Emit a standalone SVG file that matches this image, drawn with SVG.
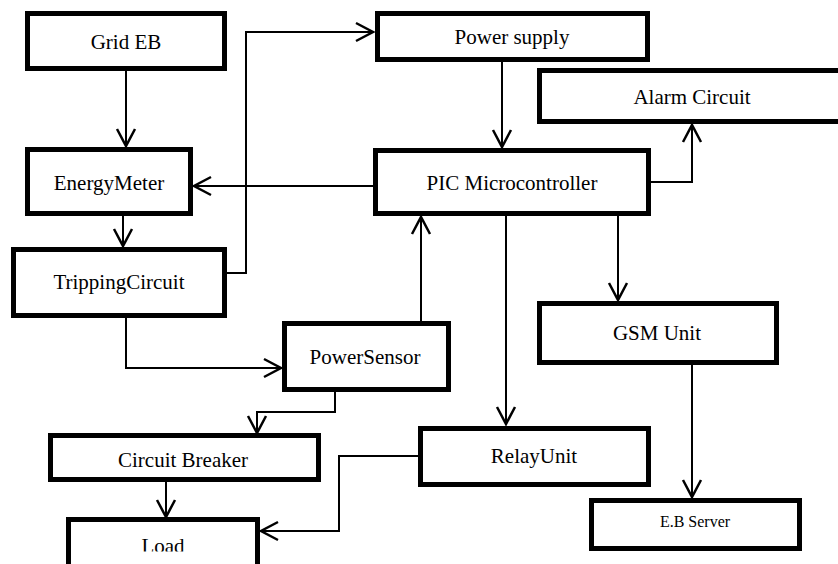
<svg xmlns="http://www.w3.org/2000/svg" width="838" height="564" viewBox="0 0 838 564">
<style>
.box{fill:#fff;stroke:#000;stroke-width:5}
.lbl{font-family:"Liberation Serif","Times New Roman",serif;font-size:21px;fill:#000;text-anchor:middle}
.sm{font-size:16px}
.con path{fill:none;stroke:#000;stroke-width:2}
</style>
<defs>
<marker id="arr" markerUnits="userSpaceOnUse" markerWidth="24" markerHeight="24" viewBox="-20 -12 24 24" refX="0" refY="0" orient="auto" overflow="visible">
<path d="M-17,-9 L0,0 L-17,9" fill="none" stroke="#000" stroke-width="2.5"/>
</marker>
<clipPath id="loadClip"><rect x="60" y="500" width="210" height="51.5"/></clipPath>
</defs>
<rect width="838" height="564" fill="#fff"/>
<g id="connectors" class="con">
<path d="M126,71 V146" marker-end="url(#arr)"/>
<path d="M123,212 V246" marker-end="url(#arr)"/>
<path d="M227,273 H246 V32 H373" marker-end="url(#arr)"/>
<path d="M502,62 V147" marker-end="url(#arr)"/>
<path d="M373,186 H194" marker-end="url(#arr)"/>
<path d="M651,182 H692 V125" marker-end="url(#arr)"/>
<path d="M421,323 V217" marker-end="url(#arr)"/>
<path d="M506,216 V424" marker-end="url(#arr)"/>
<path d="M618,216 V300" marker-end="url(#arr)"/>
<path d="M692,365 V497" marker-end="url(#arr)"/>
<path d="M126,318 V368 H281" marker-end="url(#arr)"/>
<path d="M335,387 V412 H257 V433" marker-end="url(#arr)"/>
<path d="M166,482 V517" marker-end="url(#arr)"/>
<path d="M418,456 H339 V531 H261" marker-end="url(#arr)"/>
</g>
<g id="grid-eb"><rect class="box" x="27.5" y="13.5" width="197" height="55"/><text class="lbl" x="126" y="49">Grid EB</text></g>
<g id="power-supply"><rect class="box" x="377.5" y="13.5" width="270" height="46"/><text class="lbl" x="512" y="44">Power supply</text></g>
<g id="alarm-circuit"><rect class="box" x="539.5" y="70.5" width="320" height="51"/><text class="lbl" x="692" y="104">Alarm Circuit</text></g>
<g id="energy-meter"><rect class="box" x="27.5" y="149.5" width="163" height="64"/><text class="lbl" x="109" y="190">EnergyMeter</text></g>
<g id="pic"><rect class="box" x="375.5" y="150.5" width="273" height="63"/><text class="lbl" x="512" y="190">PIC Microcontroller</text></g>
<g id="tripping-circuit"><rect class="box" x="13.5" y="249.5" width="211" height="66"/><text class="lbl" x="119" y="289">TrippingCircuit</text></g>
<g id="power-sensor"><rect class="box" x="284.5" y="323.5" width="164" height="66"/><text class="lbl" x="365" y="364">PowerSensor</text></g>
<g id="gsm-unit"><rect class="box" x="539.5" y="303.5" width="237" height="59"/><text class="lbl" x="657" y="340">GSM Unit</text></g>
<g id="circuit-breaker"><rect class="box" x="50.5" y="435.5" width="268" height="44"/><text class="lbl" x="183" y="467">Circuit Breaker</text></g>
<g id="relay-unit"><rect class="box" x="420.5" y="428.5" width="228" height="56"/><text class="lbl" x="534" y="463">RelayUnit</text></g>
<g id="eb-server"><rect class="box" x="591.5" y="500.5" width="208" height="48"/><text class="lbl sm" x="695" y="527">E.B Server</text></g>
<g id="load"><rect class="box" x="68.5" y="519.5" width="189" height="50"/><text class="lbl" x="163" y="553" clip-path="url(#loadClip)">Load</text></g>
</svg>
